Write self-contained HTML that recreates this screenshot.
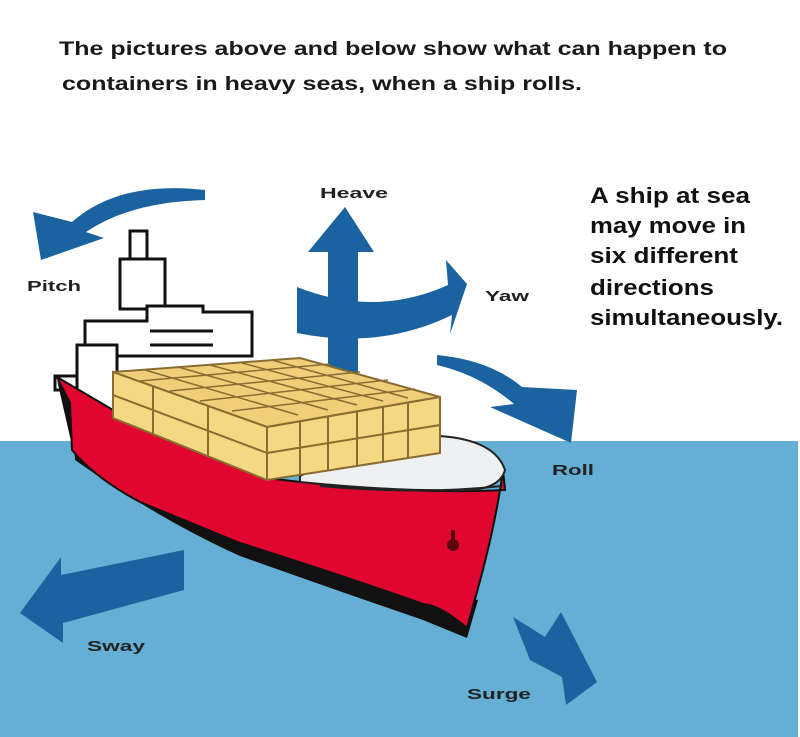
<!DOCTYPE html>
<html><head><meta charset="utf-8"><style>
html,body{margin:0;padding:0;background:#fff;}
svg{display:block;}
text{font-family:"Liberation Sans",Arial,sans-serif;font-weight:bold;}
</style></head><body>
<svg width="800" height="737" viewBox="0 0 800 737" xmlns="http://www.w3.org/2000/svg">
<rect width="800" height="737" fill="#fff"/>
<rect x="0" y="441" width="798" height="296" fill="#64afd3"/>

<text x="59" y="55" font-size="19" fill="#1a1a1a" textLength="668" lengthAdjust="spacingAndGlyphs">The pictures above and below show what can happen to</text>
<text x="62" y="90" font-size="19" fill="#1a1a1a" textLength="520" lengthAdjust="spacingAndGlyphs">containers in heavy seas, when a ship rolls.</text>

<g font-size="22" fill="#111">
<text x="590" y="203" textLength="160" lengthAdjust="spacingAndGlyphs">A ship at sea</text>
<text x="590" y="233" textLength="156" lengthAdjust="spacingAndGlyphs">may move in</text>
<text x="590" y="263" textLength="148" lengthAdjust="spacingAndGlyphs">six different</text>
<text x="590" y="295" textLength="124" lengthAdjust="spacingAndGlyphs">directions</text>
<text x="590" y="325" textLength="193" lengthAdjust="spacingAndGlyphs">simultaneously.</text>
</g>
<g font-size="15" fill="#222">
<text x="320" y="198" textLength="68" lengthAdjust="spacingAndGlyphs">Heave</text>
<text x="27" y="291" textLength="54" lengthAdjust="spacingAndGlyphs">Pitch</text>
<text x="485" y="301" textLength="44" lengthAdjust="spacingAndGlyphs">Yaw</text>
<text x="552" y="475" textLength="42" lengthAdjust="spacingAndGlyphs">Roll</text>
<text x="87" y="651" textLength="58" lengthAdjust="spacingAndGlyphs">Sway</text>
<text x="467" y="699" textLength="64" lengthAdjust="spacingAndGlyphs">Surge</text>
</g>

<g fill="#1b63a0">
<!-- pitch -->
<path d="M205,190 Q120,180 72,222 L33,212 L41,260 L104,238 L86,232 Q130,202 205,200 Z"/>
<!-- heave -->
<path d="M345,207 L374,252 L358,252 L358,375 L328,375 L328,252 L308,252 Z"/>
<!-- yaw -->
<path d="M297,287 Q375,318 448,285 L446,260 L467,284 L450,334 L452,315 Q380,350 297,333 Z"/>
<!-- roll -->
<path d="M437,355 Q490,360 522,387 L577,390 L571,443 L490,407 L514,404 Q480,375 437,365 Z"/>
<!-- sway -->
<path d="M20,613 L61,557 L61,575 L184,550 L184,590 L63,623 L63,643 Z"/>
<!-- surge -->
<path d="M513,617 L545,637 L561,612 L597,682 L566,705 L562,677 L530,660 Z"/>
</g>

<!-- superstructure -->
<g fill="#fff" stroke="#111" stroke-width="3">
<rect x="130" y="231" width="17" height="30"/>
<rect x="120" y="259" width="45" height="50"/>
<path d="M85,321 L147,321 L147,306 L203,306 L203,312 L252,312 L252,356 L85,356 Z"/>
<rect x="77" y="345" width="40" height="65"/>
<path d="M55,376 L77,376 L77,390 L55,390 Z"/>
</g>
<g stroke="#111" stroke-width="3">
<line x1="150" y1="331" x2="213" y2="331"/>
<line x1="150" y1="345" x2="213" y2="345"/>
</g>

<!-- hull shadow -->
<path d="M57,380 L72,405 L75,460 Q160,520 240,556 Q350,595 423,620 L467,638 L478,600 Q430,590 340,575 Q240,540 140,502 Q95,480 73,450 Z" fill="#111"/>
<!-- hull -->
<path d="M57,377 L113,410 L267,478 Q400,495 505,490 L503,470 Q495,530 473,606 L467,628 Q440,605 423,604 Q350,578 240,543 Q160,510 140,502 Q95,478 72,450 L70,403 Z" fill="#e1062f" stroke="#111" stroke-width="2"/>
<!-- white deck at bow -->
<path d="M300,476 Q380,440 440,436 Q495,440 505,470 Q500,488 470,490 Q400,492 300,482 Z" fill="#eef0f2" stroke="#222" stroke-width="2"/>
<path d="M320,486 Q420,495 502,486" fill="none" stroke="#222" stroke-width="2"/>
<circle cx="453" cy="545" r="6" fill="#5a0810"/>
<rect x="451" y="530" width="4" height="14" fill="#5a0810"/>

<!-- containers -->
<g stroke="#8a6c32" stroke-width="2">
<path d="M113,372 L300,358 L440,397 L267,427 Z" fill="#f0cf78"/>
<path d="M113,372 L267,427 L267,480 L113,418 Z" fill="#f5d882"/>
<path d="M267,427 L440,397 L440,453 L267,480 Z" fill="#f5d882"/>
<path d="M153,386 L153,434 M208,406 L208,456 M113,395 L267,453 M300,421 L300,475 M328,416 L328,471 M357,411 L357,466 M383,407 L383,462 M408,402 L408,458 M267,453 L440,425" fill="none"/>
<path d="M145,370 L298,415 M178,367 L328,410 M210,365 L357,405 M242,363 L383,401 M272,360 L408,398 M140,381 L330,364 M170,391 L360,372 M200,401 L388,380 M232,411 L415,389" fill="none" stroke-width="1.5"/>
</g>
</svg>
</body></html>
